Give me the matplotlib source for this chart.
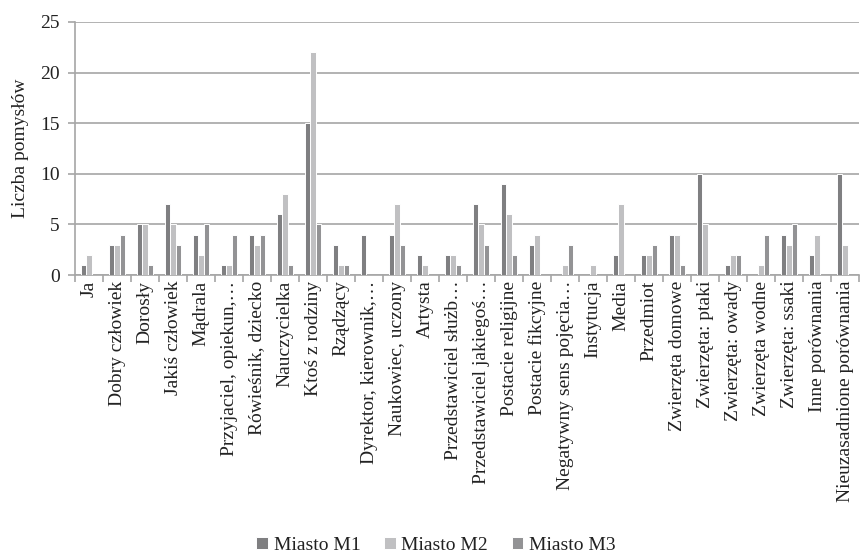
import matplotlib
matplotlib.use("Agg")
import matplotlib.pyplot as plt
import numpy as np

categories = [
    "Ja", "Dobry człowiek", "Dorosły", "Jakiś człowiek", "Mądrala",
    "Przyjaciel, opiekun,…", "Rówieśnik, dziecko", "Nauczycielka",
    "Ktoś z rodziny", "Rządzący", "Dyrektor, kierownik,…",
    "Naukowiec, uczony", "Artysta", "Przedstawiciel służb…",
    "Przedstawiciel jakiegoś…", "Postacie religijne", "Postacie fikcyjne",
    "Negatywny sens pojęcia…", "Instytucja", "Media", "Przedmiot",
    "Zwierzęta domowe", "Zwierzęta: ptaki", "Zwierzęta: owady",
    "Zwierzęta wodne", "Zwierzęta: ssaki", "Inne porównania",
    "Nieuzasadnione porównania",
]
miasto_m1 = [1, 3, 5, 7, 4, 1, 4, 6, 15, 3, 4, 4, 2, 2, 7, 9, 3, 0, 0, 2, 2, 4, 10, 1, 0, 4, 2, 10]
miasto_m2 = [2, 3, 5, 5, 2, 1, 3, 8, 22, 1, 0, 7, 1, 2, 5, 6, 4, 1, 1, 7, 2, 4, 5, 2, 1, 3, 4, 3]
miasto_m3 = [0, 4, 1, 3, 5, 4, 4, 1, 5, 1, 0, 3, 0, 1, 3, 2, 0, 3, 0, 0, 3, 1, 0, 2, 4, 5, 0, 0]
series_names = ["Miasto M1", "Miasto M2", "Miasto M3"]
y_ticks = [0, 5, 10, 15, 20, 25]

colors = ["#7f7f81", "#c0c0c2", "#939395"]
grid_col = "#a6a6a6"
text_col = "#222222"
serif = ["Liberation Serif", "DejaVu Serif"]
plt.rcParams["font.family"] = serif

fig = plt.figure(figsize=(8.6, 5.59), dpi=100)
ax = fig.add_axes([75 / 860, 1 - 275 / 559, (859 - 75) / 860, (275 - 22) / 559])

x = np.arange(len(categories))
w = 0.2
for i, (vals, name, c) in enumerate(zip([miasto_m1, miasto_m2, miasto_m3], series_names, colors)):
    ax.bar(x + (i - 1) * w, vals, width=w, color=c, edgecolor="white",
           linewidth=0.7, label=name, zorder=3)

ax.set_xlim(-0.5, len(categories) - 0.5)
ax.set_ylim(0, 25)
ax.set_yticks(y_ticks)
ax.yaxis.grid(True, color=grid_col, linewidth=1.2, zorder=0)
ax.set_axisbelow(True)

for s in ["top", "right"]:
    ax.spines[s].set_visible(False)
for s in ["left", "bottom"]:
    ax.spines[s].set_color(grid_col)
    ax.spines[s].set_linewidth(1.2)

ax.set_xticks(x)
ax.set_xticklabels(categories, rotation=90, fontsize=14)
ax.tick_params(axis="x", which="major", length=0, pad=4)
ax.set_xticks(np.arange(-0.5, len(categories), 1.0), minor=True)
ax.tick_params(axis="x", which="minor", length=5, width=1.2, color=grid_col)
ax.tick_params(axis="y", length=5, width=1.2, color=grid_col, labelsize=14, pad=6)
for lab in ax.get_yticklabels() + ax.get_xticklabels():
    lab.set_color(text_col)

ax.set_ylabel("Liczba pomysłów", fontsize=14, color=text_col, labelpad=8)

fig.legend(loc="lower center", bbox_to_anchor=(0.507, -0.022), ncol=3, frameon=False,
           fontsize=14, handlelength=0.6, handleheight=0.6, handletextpad=0.3,
           columnspacing=1.2, labelcolor=text_col)

fig.savefig("out.png", dpi=100)
